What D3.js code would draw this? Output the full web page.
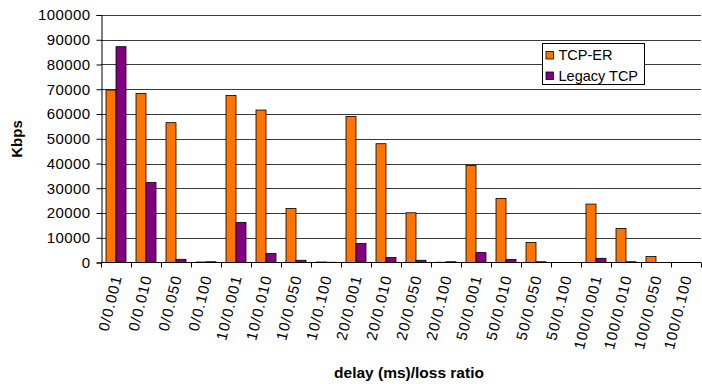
<!DOCTYPE html>
<html>
<head>
<meta charset="utf-8">
<script src="https://cdn.jsdelivr.net/npm/d3@7"></script>
<style>
  html, body { margin: 0; padding: 0; background: #fff; }
  svg { display: block; font-family: "Liberation Sans", Arial, sans-serif; }
</style>
</head>
<body>
<svg id="chart" width="702" height="384"></svg>
<script>
// Throughput per delay/loss setting
const categories = [
  "0/0.001", "0/0.010", "0/0.050", "0/0.100",
  "10/0.001", "10/0.010", "10/0.050", "10/0.100",
  "20/0.001", "20/0.010", "20/0.050", "20/0.100",
  "50/0.001", "50/0.010", "50/0.050", "50/0.100",
  "100/0.001", "100/0.010", "100/0.050", "100/0.100"
];
const seriesNames = ["TCP-ER", "Legacy TCP"];
const tcpEr = [
  69700, 68300, 56500, 200,
  67500, 61600, 21800, 200,
  59000, 48000, 20100, 100,
  39200, 25900, 8100, 0,
  23600, 13700, 2400, 0
];
const legacyTcp = [
  87200, 32300, 1300, 300,
  16200, 3600, 900, 100,
  7700, 2000, 900, 300,
  4000, 1200, 300, 0,
  1700, 300, 0, 0
];
const yTicks = [0, 10000, 20000, 30000, 40000, 50000, 60000, 70000, 80000, 90000, 100000];
const seriesColors = ["#FF7300", "#800080"];

const svg = d3.select("#chart");
const plot = { left: 101, right: 701, top: 15, bottom: 262.5 };

const x = d3.scaleBand().domain(categories).range([plot.left, plot.right]).padding(0);
const x1 = d3.scaleBand().domain(seriesNames)
  .range([x.bandwidth() / 6, x.bandwidth() * 5 / 6]).padding(0);
const y = d3.scaleLinear().domain([0, 100000]).range([plot.bottom, plot.top]);

// Horizontal gridlines
svg.append("g")
  .selectAll("line")
  .data(yTicks.filter(d => d > 0))
  .join("line")
  .attr("x1", plot.left).attr("x2", plot.right)
  .attr("y1", d => Math.round(y(d)) + 0.5).attr("y2", d => Math.round(y(d)) + 0.5)
  .attr("stroke", "#3a3a3a").attr("stroke-width", 1);

// Bars
const rows = categories.map((c, i) => ({ cat: c, vals: [tcpEr[i], legacyTcp[i]] }));
const groups = svg.append("g").selectAll("g")
  .data(rows).join("g")
  .attr("transform", d => `translate(${x(d.cat)},0)`);
groups.selectAll("rect")
  .data(d => d.vals.map((v, k) => ({ name: seriesNames[k], v, k })))
  .join("rect")
  .filter(d => d.v > 0)
  .attr("x", d => x1(d.name))
  .attr("width", x1.bandwidth())
  .attr("y", d => y(d.v))
  .attr("height", d => plot.bottom - y(d.v))
  .attr("fill", d => seriesColors[d.k])
  .attr("stroke", "#000")
  .attr("stroke-width", 0.8);

// Y axis
const yAxis = d3.axisLeft(y).tickValues(yTicks).tickSize(5).tickPadding(6).tickFormat(d3.format("d"));
const gy = svg.append("g").attr("transform", `translate(${plot.left + 0.5},0)`).call(yAxis);
gy.select(".domain").attr("stroke", "#000");
gy.selectAll(".tick line").attr("stroke", "#000");
gy.selectAll(".tick text").attr("font-size", 15).attr("fill", "#000")
  .attr("letter-spacing", 0.4)
  .attr("font-family", "Liberation Sans, Arial, sans-serif");

// X axis: ticks at band boundaries
const gx = svg.append("g").attr("transform", `translate(0,${plot.bottom})`);
gx.append("line").attr("x1", plot.left).attr("x2", plot.right)
  .attr("y1", 0).attr("y2", 0).attr("stroke", "#000");
gx.selectAll("line.tk")
  .data(categories.concat(["__end"]))
  .join("line").attr("class", "tk")
  .attr("x1", (d, i) => Math.round(plot.left + i * x.step()) + 0.5)
  .attr("x2", (d, i) => Math.round(plot.left + i * x.step()) + 0.5)
  .attr("y1", 0).attr("y2", 5).attr("stroke", "#000");
gx.selectAll("text")
  .data(categories)
  .join("text")
  .attr("transform", d => `translate(${x(d) + x.bandwidth() / 2 + 1},13) rotate(-76)`)
  .attr("text-anchor", "end")
  .attr("dy", "0.35em")
  .attr("font-size", 15)
  .attr("letter-spacing", 1)
  .attr("fill", "#000")
  .text(d => d);

// Axis titles
svg.append("text")
  .attr("transform", "translate(22,139) rotate(-90)")
  .attr("text-anchor", "middle")
  .attr("font-size", 15).attr("font-weight", "bold")
  .text("Kbps");
svg.append("text")
  .attr("x", 409).attr("y", 378)
  .attr("text-anchor", "middle")
  .attr("font-size", 15.5).attr("font-weight", "bold")
  .text("delay (ms)/loss ratio");

// Legend
const legend = svg.append("g").attr("transform", "translate(542,43)");
legend.append("rect").attr("x", 0.5).attr("y", 0.5).attr("width", 102).attr("height", 41)
  .attr("fill", "#fff").attr("stroke", "#000").attr("stroke-width", 1);
seriesNames.forEach((name, k) => {
  const row = legend.append("g").attr("transform", `translate(4,${12 + k * 20.5})`);
  row.append("rect").attr("x", 0).attr("y", -3.5).attr("width", 7.5).attr("height", 7.5)
    .attr("fill", seriesColors[k]).attr("stroke", "#000").attr("stroke-width", 0.8);
  row.append("text").attr("x", 12.5).attr("y", 0).attr("dy", "0.35em")
    .attr("font-size", 14.5).attr("fill", "#000").text(name);
});
</script>
</body>
</html>
